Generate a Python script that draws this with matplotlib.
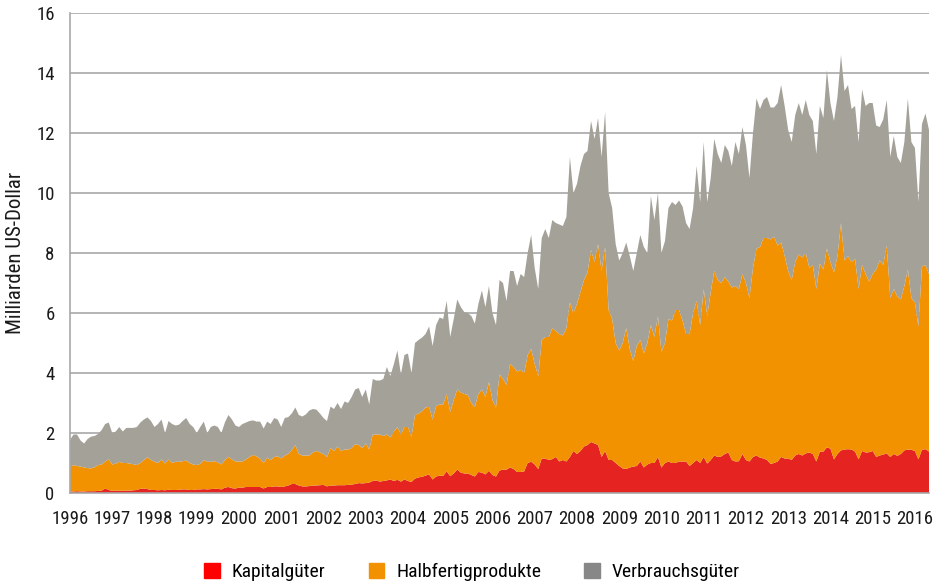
import numpy as np
import matplotlib.pyplot as plt
from matplotlib.patches import Patch

plt.rcParams['font.family'] = ['Roboto Condensed', 'Archivo Narrow', 'PT Sans Narrow',
                               'Liberation Sans Narrow', 'DejaVu Sans']

# monthly values in billion USD, Jan 1996 - May 2016 (one row per year)
kapital = [
    0.05, 0.05, 0.06, 0.05, 0.05, 0.06, 0.06, 0.06, 0.07, 0.08, 0.15, 0.10,
    0.07, 0.08, 0.08, 0.07, 0.08, 0.08, 0.09, 0.10, 0.14, 0.15, 0.13, 0.10,
    0.10, 0.09, 0.10, 0.09, 0.11, 0.10, 0.10, 0.11, 0.12, 0.12, 0.10, 0.10,
    0.12, 0.12, 0.13, 0.12, 0.13, 0.14, 0.14, 0.12, 0.18, 0.20, 0.16, 0.15,
    0.18, 0.18, 0.20, 0.20, 0.20, 0.20, 0.20, 0.15, 0.20, 0.20, 0.22, 0.22,
    0.20, 0.22, 0.25, 0.30, 0.30, 0.25, 0.22, 0.22, 0.23, 0.25, 0.25, 0.26,
    0.27, 0.22, 0.25, 0.25, 0.26, 0.26, 0.26, 0.27, 0.28, 0.30, 0.33, 0.32,
    0.33, 0.35, 0.40, 0.42, 0.38, 0.40, 0.42, 0.45, 0.40, 0.44, 0.38, 0.45,
    0.40, 0.37, 0.48, 0.52, 0.54, 0.58, 0.62, 0.45, 0.55, 0.58, 0.57, 0.72,
    0.56, 0.65, 0.78, 0.68, 0.65, 0.65, 0.60, 0.55, 0.70, 0.68, 0.62, 0.74,
    0.60, 0.55, 0.75, 0.78, 0.78, 0.85, 0.80, 0.70, 0.70, 0.72, 1.00, 1.04,
    0.95, 0.80, 1.15, 1.15, 1.10, 1.13, 1.20, 1.05, 1.10, 1.05, 1.20, 1.40,
    1.30, 1.40, 1.55, 1.60, 1.70, 1.65, 1.60, 1.20, 1.40, 1.10, 1.10, 1.00,
    0.90, 0.82, 0.80, 0.85, 0.88, 0.90, 1.05, 0.85, 0.95, 1.00, 1.00, 1.20,
    0.85, 1.00, 1.05, 1.00, 1.00, 1.05, 1.05, 1.05, 0.90, 1.00, 1.10, 1.00,
    1.20, 0.98, 1.10, 1.25, 1.20, 1.22, 1.30, 1.35, 1.10, 1.05, 1.06, 1.30,
    1.10, 1.05, 1.20, 1.25, 1.18, 1.15, 1.10, 0.97, 1.00, 1.05, 1.20, 1.15,
    1.15, 1.10, 1.25, 1.30, 1.25, 1.32, 1.35, 1.30, 1.05, 1.38, 1.38, 1.52,
    1.48, 1.12, 1.30, 1.42, 1.45, 1.46, 1.45, 1.38, 1.12, 1.40, 1.35, 1.36,
    1.40, 1.20, 1.25, 1.28, 1.32, 1.20, 1.30, 1.24, 1.30, 1.42, 1.45, 1.44,
    1.40, 1.12, 1.44, 1.46, 1.38,
]

halbfertig = [
    0.83, 0.88, 0.84, 0.83, 0.80, 0.77, 0.76, 0.80, 0.86, 0.87, 0.90, 1.02,
    0.88, 0.90, 0.96, 0.93, 0.92, 0.90, 0.87, 0.83, 0.86, 0.95, 1.06, 1.00,
    0.94, 0.91, 1.02, 0.89, 1.01, 0.90, 0.94, 0.93, 0.94, 0.96, 0.90, 0.85,
    0.81, 0.85, 0.97, 0.92, 0.91, 0.92, 0.88, 0.83, 0.92, 1.00, 0.96, 0.90,
    0.87, 0.87, 0.92, 1.00, 1.07, 1.02, 0.95, 0.85, 0.98, 0.90, 0.98, 1.00,
    0.95, 1.03, 1.05, 1.13, 1.30, 1.05, 1.03, 1.03, 1.02, 1.10, 1.15, 1.09,
    1.03, 0.98, 1.25, 1.15, 1.29, 1.14, 1.19, 1.18, 1.22, 1.33, 1.27, 1.18,
    1.32, 1.10, 1.55, 1.53, 1.57, 1.50, 1.53, 1.40, 1.65, 1.76, 1.57, 1.75,
    1.80, 1.51, 2.12, 2.13, 2.18, 2.27, 2.25, 2.00, 2.35, 2.37, 2.38, 2.58,
    2.14, 2.45, 2.67, 2.67, 2.65, 2.62, 2.40, 2.32, 2.60, 2.77, 2.58, 2.96,
    2.50, 2.30, 3.20, 3.02, 2.82, 3.45, 3.40, 3.35, 3.40, 3.28, 3.60, 3.76,
    3.35, 3.10, 3.95, 4.05, 4.10, 4.36, 4.20, 4.25, 4.15, 4.45, 5.15, 4.60,
    5.00, 5.30, 5.55, 5.75, 6.40, 6.05, 6.70, 6.20, 6.80, 5.00, 4.70, 4.00,
    3.85, 4.18, 4.70, 3.95, 3.52, 4.00, 4.05, 3.80, 4.05, 4.60, 4.20, 4.70,
    3.85, 4.00, 4.75, 4.75, 5.10, 5.05, 4.70, 4.25, 4.40, 5.00, 5.30, 4.60,
    5.60, 4.92, 5.60, 6.15, 5.90, 5.78, 5.90, 5.70, 5.75, 5.85, 5.74, 6.00,
    5.90, 5.45, 6.30, 6.90, 7.02, 7.35, 7.40, 7.48, 7.55, 7.20, 7.15, 6.75,
    6.25, 6.00, 6.45, 6.65, 6.60, 6.68, 6.15, 6.30, 5.75, 6.27, 6.07, 6.63,
    6.22, 6.23, 6.60, 7.58, 6.30, 6.44, 6.25, 6.42, 5.68, 6.20, 5.95, 5.69,
    5.90, 6.25, 6.50, 6.32, 6.93, 5.30, 5.50, 5.31, 5.15, 5.48, 6.00, 5.06,
    4.95, 4.43, 6.11, 6.14, 5.92,
]

verbrauch = [
    0.89, 1.02, 1.05, 0.87, 0.80, 0.97, 1.06, 1.04, 1.04, 1.15, 1.25, 1.23,
    1.05, 1.07, 1.16, 1.05, 1.17, 1.19, 1.21, 1.27, 1.35, 1.35, 1.33, 1.30,
    1.16, 1.30, 1.33, 1.02, 1.28, 1.30, 1.21, 1.24, 1.34, 1.42, 1.30, 1.25,
    1.07, 1.23, 1.28, 0.96, 1.16, 1.19, 1.18, 1.05, 1.25, 1.40, 1.33, 1.20,
    1.15, 1.25, 1.23, 1.20, 1.15, 1.16, 1.23, 1.15, 1.20, 1.20, 1.30, 1.23,
    1.05, 1.25, 1.23, 1.22, 1.25, 1.30, 1.30, 1.37, 1.50, 1.45, 1.38, 1.30,
    1.20, 1.20, 1.38, 1.40, 1.45, 1.40, 1.60, 1.55, 1.70, 1.82, 1.90, 1.70,
    1.80, 1.50, 1.85, 1.80, 1.80, 1.90, 2.25, 2.05, 2.25, 2.55, 2.00, 2.40,
    2.45, 2.12, 2.40, 2.45, 2.46, 2.45, 2.68, 2.45, 2.70, 2.90, 2.85, 3.10,
    2.50, 2.70, 3.00, 2.85, 2.73, 2.73, 2.90, 2.78, 3.00, 3.30, 3.00, 3.20,
    2.90, 2.75, 3.15, 3.20, 2.80, 3.10, 3.20, 2.85, 3.20, 3.20, 3.40, 3.80,
    3.20, 2.90, 3.40, 3.60, 3.30, 3.61, 3.60, 3.65, 3.65, 3.70, 4.85, 4.00,
    4.00, 4.20, 4.20, 4.05, 4.30, 4.10, 4.20, 3.80, 4.50, 3.90, 3.70, 3.30,
    3.00, 3.00, 2.85, 3.10, 3.00, 3.10, 3.50, 3.55, 3.00, 4.30, 3.90, 4.10,
    3.30, 3.40, 3.70, 3.95, 3.50, 3.65, 3.80, 3.70, 3.50, 3.50, 4.50, 4.10,
    4.90, 3.80, 3.80, 4.40, 4.20, 4.00, 4.40, 4.35, 4.05, 4.80, 4.50, 4.90,
    4.60, 4.00, 4.50, 5.00, 4.60, 4.60, 4.70, 4.40, 4.30, 4.75, 5.25, 5.00,
    4.70, 4.60, 4.90, 5.05, 4.75, 5.10, 5.10, 4.80, 4.50, 5.25, 5.05, 5.95,
    5.30, 5.05, 5.30, 5.60, 5.65, 5.70, 5.10, 5.10, 4.90, 5.85, 5.60, 5.95,
    5.70, 4.80, 4.45, 4.85, 4.85, 4.70, 5.10, 4.65, 4.55, 4.80, 5.70, 5.20,
    5.15, 4.15, 4.75, 5.05, 4.80,
]

labels = ['Kapitalgüter', 'Halbfertigprodukte', 'Verbrauchsgüter']
years = list(range(1996, 2017))

months = 1996 + np.arange(len(kapital)) / 12

fig = plt.figure(figsize=(9.37, 5.84), dpi=100)
ax = fig.add_axes([70 / 937, 1 - 493 / 584, 859 / 937, 480 / 584])

ax.stackplot(months, kapital, halbfertig, verbrauch,
             colors=['#e52421', '#f39200', '#a4a199'], linewidth=0)

ax.set_xlim(months[0], months[-1])
ax.set_ylim(0, 16)
ax.set_yticks(range(0, 17, 2))
ax.set_xticks(years)
ax.set_xticklabels([str(y) for y in years])

ax.set_axisbelow(True)
ax.grid(axis='y', color='#a8a8a8', linewidth=1.2)
for side in ['top', 'right']:
    ax.spines[side].set_visible(False)
for side in ['left', 'bottom']:
    ax.spines[side].set_color('#a8a8a8')
    ax.spines[side].set_linewidth(1.2)

ax.tick_params(axis='both', length=0, labelsize=13.5, colors='#1a1a1a')
ax.tick_params(axis='y', pad=11)
ax.tick_params(axis='x', pad=12)
ax.set_ylabel('Milliarden US-Dollar', fontsize=15, color='#1a1a1a', labelpad=8)

handles = [Patch(color='#ff0000'), Patch(color='#f39200'), Patch(color='#878787')]
fig.legend(handles, labels, loc='center', bbox_to_anchor=(472 / 937, 1 - 572 / 584),
           ncol=3, frameon=False, fontsize=14, handlelength=0.82, handleheight=0.82,
           handletextpad=0.6, columnspacing=2.2)

fig.savefig('out.png', dpi=100)
